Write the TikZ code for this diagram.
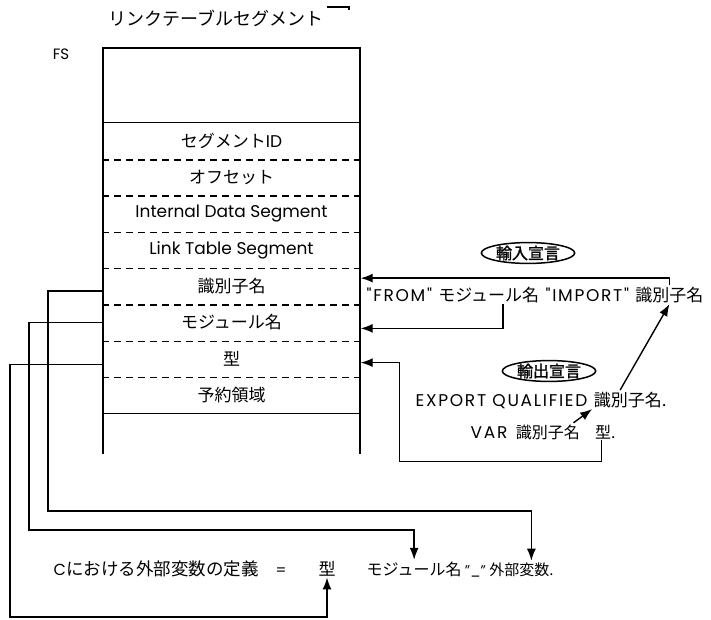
\documentclass[tikz,border=0pt]{standalone}
\usepackage{fontspec}
\setmainfont{Poppins}
\newfontfamily\jp{Noto Sans CJK JP}
\newfontfamily\jpbold{Noto Sans CJK JP}[FakeBold=1.5]
\newfontfamily\capsf{Poppins}[LetterSpace=10]
\usetikzlibrary{arrows.meta,positioning,shapes.geometric}

\begin{document}
\begin{tikzpicture}[x=1pt, y=-1pt, line width=1.4pt,
  font=\fontsize{15}{18}\selectfont,
  rowlab/.style={minimum width=257pt, minimum height=36.25pt, inner sep=0pt,
    font=\fontsize{17}{20}\selectfont},
  txt/.style={inner sep=1pt},
  jptxt/.style={font=\fontsize{17}{20}\jp},
  jpsmall/.style={font=\fontsize{16}{20}\jp},
  capstxt/.style={font=\fontsize{17}{20}\capsf},
  decl/.style={ellipse, draw, inner xsep=1pt, inner ysep=0pt, line width=1.5pt,
    font=\fontsize{16}{18}\jpbold},
  arr/.style={-{Latex[length=12pt,width=9pt]}}]
  \useasboundingbox (0,0) rectangle (711,620);
  % --- title and FS ---
  \node[anchor=base, font=\fontsize{18}{20}\jp] (title) at (216,26) {リンクテーブルセグメント};
  \draw[line width=1.2pt] (327,7) -- (349,7) -- (349,10);
  \node[font=\fontsize{15}{16}\selectfont] (fs) at (61,54) {FS};
  % --- segment rows (row pitch 36.25) ---
  \foreach \i/\lab in {1/{\jp セグメント}ID, 2/{\jp オフセット}, 3/Internal Data Segment,
      4/Link Table Segment, 5/{\jp 識別子名}, 6/{\jp モジュール名}, 7/{\jp 型}, 8/{\jp 予約領域}}
    \node[rowlab] (r\i) at (231.5,{104.875+36.25*\i}) {\lab};
  \draw (103,454) -- (103,48) -- (360,48) -- (360,454);
  \draw (r1.north west) -- (r1.north east);
  \draw (r8.south west) -- (r8.south east);
  \foreach \i in {1,...,7}
    \draw[dash pattern=on 7pt off 5pt] (r\i.south west) -- (r\i.south east);
  % --- import declaration ---
  \node[decl] (imp) at (528,253) {輸入宣言};
  \node[txt, capstxt, anchor=base west] (fq1) at (365,301) {"FROM"};
  \node[txt, jptxt, base right=3pt of fq1] (fmod) {モジュール名};
  \node[txt, capstxt, base right=3pt of fmod] (fq2) {"IMPORT"};
  \node[txt, jptxt, base right=3pt of fq2] (fid) {識別子名};
  % --- export declaration ---
  \node[decl] (exp) at (549,371) {輸出宣言};
  \node[txt, capstxt, anchor=base west] (exq) at (414,406) {EXPORT QUALIFIED};
  \node[txt, jptxt, base right=3pt of exq] (exid) {識別子名.};
  \node[txt, capstxt, anchor=base west] (vkw) at (469,438) {VAR};
  \node[txt, jpsmall, base right=5pt of vkw] (vid) {識別子名};
  \node[txt, jpsmall, base right=12pt of vid] (vtyp) {型.};
  % --- C definition ---
  \node[txt, anchor=base west, font=\fontsize{16}{20}\selectfont] (cdef) at (52,575)
    {C{\fontsize{17.5}{20}\jp における外部変数の定義}};
  \node[txt, anchor=base] (ceq) at (281,575) {=};
  \node[txt, jptxt, anchor=base] (ctyp) at (327,575) {型};
  \node[txt, jpsmall, anchor=base west] (cmod) at (365,575) {モジュール名};
  \node[inner sep=0pt, base right=1pt of cmod, font=\fontsize{14}{16}\selectfont] (csep) {"\_"};
  \node[txt, font=\fontsize{15}{18}\jp, base right=1pt of csep] (cext) {外部変数.};
  % --- connectors ---
  \draw[arr] ([yshift=-5pt]r5.west) -| (48,511) -| ([xshift=10pt]cext.north);
  \draw[arr] (r6.west) -| (29,530) -| (cmod.north);
  \draw[arr] ([yshift=-6pt]r7.west) -| (10,617) -| (ctyp.south);
  \draw[arr] (fid.north) |- ([yshift=8pt]r5.east);
  \draw[arr] ([xshift=14pt]fmod.south) |- ([yshift=-6pt]r6.east);
  \draw[arr] ([xshift=-4pt]vtyp.south) -- ++(0,21)
    -| ([xshift=39pt,yshift=-4pt]r7.east) -- ([yshift=-4pt]r7.east);
  \draw[arr] ([xshift=-8pt]vid.north east) -- (exid.south west);
  \draw[arr] ([xshift=-10pt]exid.north) -- (fid.south);
\end{tikzpicture}
\end{document}
